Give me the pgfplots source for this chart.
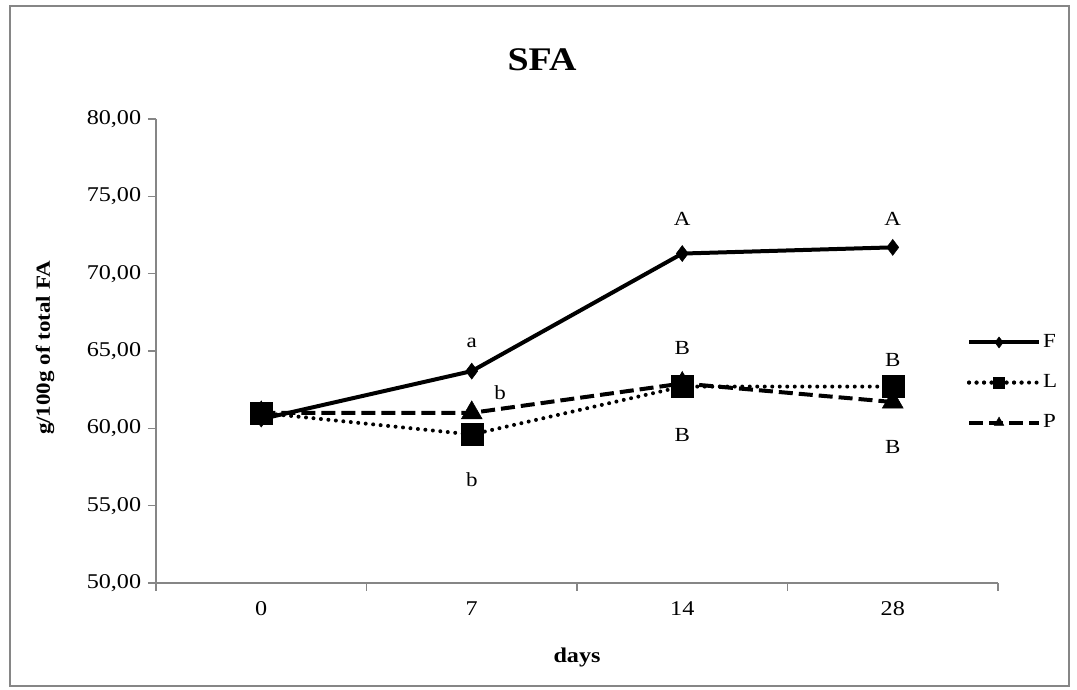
\documentclass[border=0pt]{standalone}
\usepackage{fontspec}
\setmainfont{Liberation Serif}[FakeStretch=1.15]
\usepackage{pgfplots}
\pgfplotsset{compat=1.18}
\definecolor{axgray}{RGB}{134,134,134}
\begin{document}
\fontsize{20}{24}\selectfont
\begin{tikzpicture}[x=1pt,y=1pt]
\path[use as bounding box] (0,0) rectangle (1077,690);
\draw[axgray, line width=2.5pt] (10,4) rectangle (1069,684);
\node[font=\fontsize{33}{38}\selectfont\bfseries] at (542,630) {SFA};
\node[font=\fontsize{20}{24}\selectfont\bfseries, rotate=90] at (45,342) {g/100g of total FA};
\node[font=\fontsize{21}{24}\selectfont\bfseries] at (577,33) {days};
\begin{axis}[
  at={(156pt,107pt)}, anchor=south west,
  scale only axis, width=842pt, height=464pt,
  axis lines*=left,
  axis line style={axgray, line width=1.2pt},
  xmin=-0.5, xmax=3.5, ymin=50, ymax=80,
  ytick={50,55,...,80},
  xtick={-0.5,0.5,1.5,2.5,3.5},
  xticklabels={},
  extra x ticks={0,1,2,3},
  extra x tick labels={0,7,14,28},
  extra x tick style={major tick length=0pt, tick style={draw=none}},
  tick align=outside,
  major tick length=8pt,
  tick style={axgray, line width=1.2pt},
  tick label style={font=\fontsize{21}{24}\selectfont},
  xticklabel style={yshift=-12pt},
  /pgf/number format/assume math mode=true,
  yticklabel={\pgfmathprintnumber[fixed,fixed zerofill,precision=2,use comma]{\tick}},
  clip=false,
  legend style={at={(0.963,0.432)}, anchor=west, draw=none, fill=none,
    font=\fontsize{20}{24}\selectfont, row sep=20pt, inner sep=0pt,
    cells={anchor=west}},
  legend cell align=left,
  legend image code/.code={
    \draw[#1, mark size=5.5pt, mark repeat=2, mark phase=2] plot coordinates {(0pt,0pt) (30pt,0pt) (60pt,0pt)};
    \path (0pt,0pt) -- (70pt,0pt);
  },
]
\addplot[black, line width=4pt, mark=diamond*, mark size=8pt, mark options={solid, line width=0.5pt}]
  coordinates {(0,60.6) (1,63.7) (2,71.3) (3,71.7)};
\addlegendentry{F}
\addplot[black, line width=4pt, dash pattern=on 0pt off 7.5pt, line cap=round, mark=square*, mark size=11pt, mark options={solid, line width=0.5pt}]
  coordinates {(0,61.0) (1,59.6) (2,62.7) (3,62.7)};
\addlegendentry{L}
\addplot[black, line width=4pt, dash pattern=on 14pt off 6pt, mark=triangle*, mark size=12pt, mark options={solid, line width=0.5pt}]
  coordinates {(0,61.0) (1,61.0) (2,62.9) (3,61.7)};
\addlegendentry{P}
\node at (axis cs:1,65.51) {a};
\node at (axis cs:1.135,62.28) {b};
\node at (axis cs:1,56.66) {b};
\node at (axis cs:2,73.53) {A};
\node at (axis cs:2,65.19) {B};
\node at (axis cs:2,59.57) {B};
\node at (axis cs:3,73.53) {A};
\node at (axis cs:3,64.42) {B};
\node at (axis cs:3,58.79) {B};
\end{axis}
\end{tikzpicture}
\end{document}
